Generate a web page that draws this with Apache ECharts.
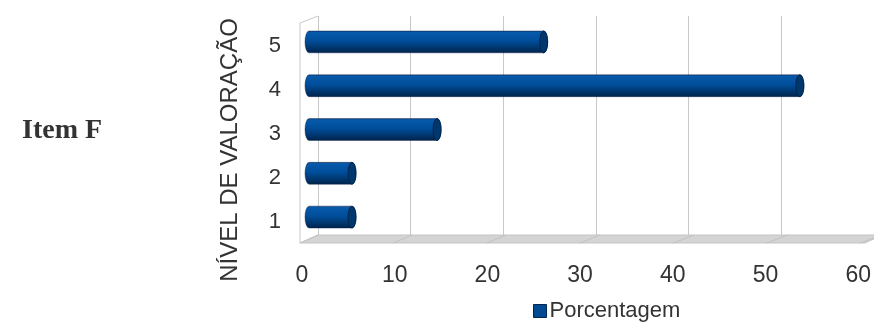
<!DOCTYPE html>
<html>
<head>
<meta charset="utf-8">
<script src="https://cdn.jsdelivr.net/npm/echarts@6/dist/echarts.min.js"></script>
<style>
html,body{margin:0;padding:0;background:#fff;}
#chart{width:874px;height:322px;}
</style>
</head>
<body>
<div id="chart"></div>
<script>
// ---- data ----
const categories = ['1', '2', '3', '4', '5'];
const percentages = [4.6, 4.6, 13.7, 52.5, 25.1];
const valueTicks = [0, 10, 20, 30, 40, 50, 60];
const seriesName = 'Porcentagem';
const axisTitle = 'NÍVEL DE VALORAÇÃO';
const chartTitle = 'Item F';

// ---- layout (pseudo-3D planes) ----
const FRONT = {left: 302, top: 24, width: 560, height: 220};
const MID   = {left: 309, top: 20, width: 561, height: 219};
const BACK  = {left: 318, top: 16, width: 564, height: 219};
const VMAX = valueTicks[valueTicks.length - 1];
const VSTEP = valueTicks[1] - valueTicks[0];

const chart = echarts.init(document.getElementById('chart'), null, {renderer: 'canvas'});

const txt = '#333333';
const font = 'Liberation Sans, Arial, sans-serif';

function barRender(params, api) {
  const v = api.value(0), c = api.value(1);
  const p0 = api.coord([0, c]);
  const p1 = api.coord([v, c]);
  const band = api.size([0, 1])[1];
  const ry = band * 0.5 / 2;
  const rx = 4;
  const top = p0[1] - ry, bot = p0[1] + ry, cy = p0[1];
  const x0 = p0[0], x1 = p1[0];
  const body = 'M' + x0 + ',' + top + ' L' + x1 + ',' + top +
    ' A' + rx + ',' + ry + ' 0 0 1 ' + x1 + ',' + bot +
    ' L' + x0 + ',' + bot +
    ' A' + rx + ',' + ry + ' 0 0 1 ' + x0 + ',' + top + ' Z';
  const cap = 'M' + (x1 - rx) + ',' + cy +
    ' A' + rx + ',' + ry + ' 0 1 0 ' + (x1 + rx) + ',' + cy +
    ' A' + rx + ',' + ry + ' 0 1 0 ' + (x1 - rx) + ',' + cy + ' Z';
  return {
    type: 'group',
    children: [
      {type: 'path', shape: {pathData: body}, style: {
        fill: new echarts.graphic.LinearGradient(0, 0, 0, 1, [
          {offset: 0, color: '#183f70'},
          {offset: 0.07, color: '#0759aa'},
          {offset: 0.45, color: '#004e9b'},
          {offset: 1, color: '#00234a'}
        ]), stroke: 'rgba(0,30,70,0.35)', lineWidth: 0.6}},
      {type: 'path', shape: {pathData: cap}, style: {
        fill: '#00376c', stroke: '#00244a', lineWidth: 1}}
    ]
  };
}

const option = {
  animation: false,
  grid: [
    Object.assign({containLabel: false}, FRONT),
    Object.assign({containLabel: false}, MID),
    Object.assign({containLabel: false}, BACK)
  ],
  xAxis: [
    {gridIndex: 0, type: 'value', min: 0, max: VMAX, interval: VSTEP,
     axisLine: {show: false}, axisTick: {show: false}, splitLine: {show: false},
     axisLabel: {color: txt, fontSize: 23, fontFamily: font, margin: 20}},
    {gridIndex: 1, type: 'value', min: 0, max: VMAX, interval: VSTEP, show: false},
    {gridIndex: 2, type: 'value', min: 0, max: VMAX, interval: VSTEP,
     axisLine: {show: false}, axisTick: {show: false}, axisLabel: {show: false},
     splitLine: {show: true, lineStyle: {color: '#c8c8c8', width: 1}}}
  ],
  yAxis: [
    {gridIndex: 0, type: 'category', data: categories,
     axisLine: {show: false}, axisTick: {show: false},
     axisLabel: {color: txt, fontSize: 22, fontFamily: font, margin: 21}},
    {gridIndex: 1, type: 'category', data: categories, show: false},
    {gridIndex: 2, type: 'category', data: categories, show: false}
  ],
  legend: {
    left: 533, top: 300, padding: 0, itemWidth: 13, itemHeight: 13, itemGap: 10,
    icon: 'rect',
    textStyle: {color: txt, fontSize: 22, fontFamily: font, padding: [0, 0, 0, -2]},
    itemStyle: {color: '#004a94', borderColor: '#00264f', borderWidth: 1},
    data: [seriesName]
  },
  series: [{
    name: seriesName,
    type: 'custom',
    xAxisIndex: 1, yAxisIndex: 1,
    renderItem: barRender,
    itemStyle: {color: '#004a94'},
    encode: {x: 0, y: 1},
    data: percentages.map((v, i) => [v, i]),
    z: 5
  }]
};
chart.setOption(option);

// decorations derived from layout constants
const fBot = 243, bBot = BACK.top + BACK.height;
const fL = 300, bL = BACK.left;
const fR = FRONT.left + FRONT.width + 3, bR = BACK.left + BACK.width;
const deco = [];
deco.push({type: 'polygon', z: 1, shape: {points: [[fL, fBot], [fR, fBot], [bR, bBot], [bL, bBot]]},
  style: {fill: '#d4d4d4', stroke: '#c4c4c4', lineWidth: 1}});
valueTicks.forEach(t => {
  const fx = FRONT.left + FRONT.width * t / VMAX;
  const bx = BACK.left + BACK.width * t / VMAX;
  deco.push({type: 'line', z: 1, shape: {x1: fx - 2, y1: fBot, x2: bx, y2: bBot},
    style: {stroke: '#c2c2c2', lineWidth: 1}});
});
deco.push({type: 'polyline', z: 1, shape: {points: [[fL, fBot], [fL, 23], [bL, BACK.top]]},
  style: {stroke: '#c8c8c8', lineWidth: 1, fill: null}});
deco.push({type: 'text', z: 3, x: 230, y: 150, rotation: Math.PI / 2,
  style: {text: axisTitle, fontSize: 24, fontFamily: font, fill: txt, align: 'center', verticalAlign: 'middle'}});
deco.push({type: 'text', z: 3, x: 22, y: 131,
  style: {text: chartTitle, fontSize: 28, fontWeight: 'bold', fontFamily: 'Liberation Serif, Times New Roman, serif',
    fill: txt, align: 'left', verticalAlign: 'middle'}});
chart.setOption({graphic: {elements: deco}});
</script>
</body>
</html>
